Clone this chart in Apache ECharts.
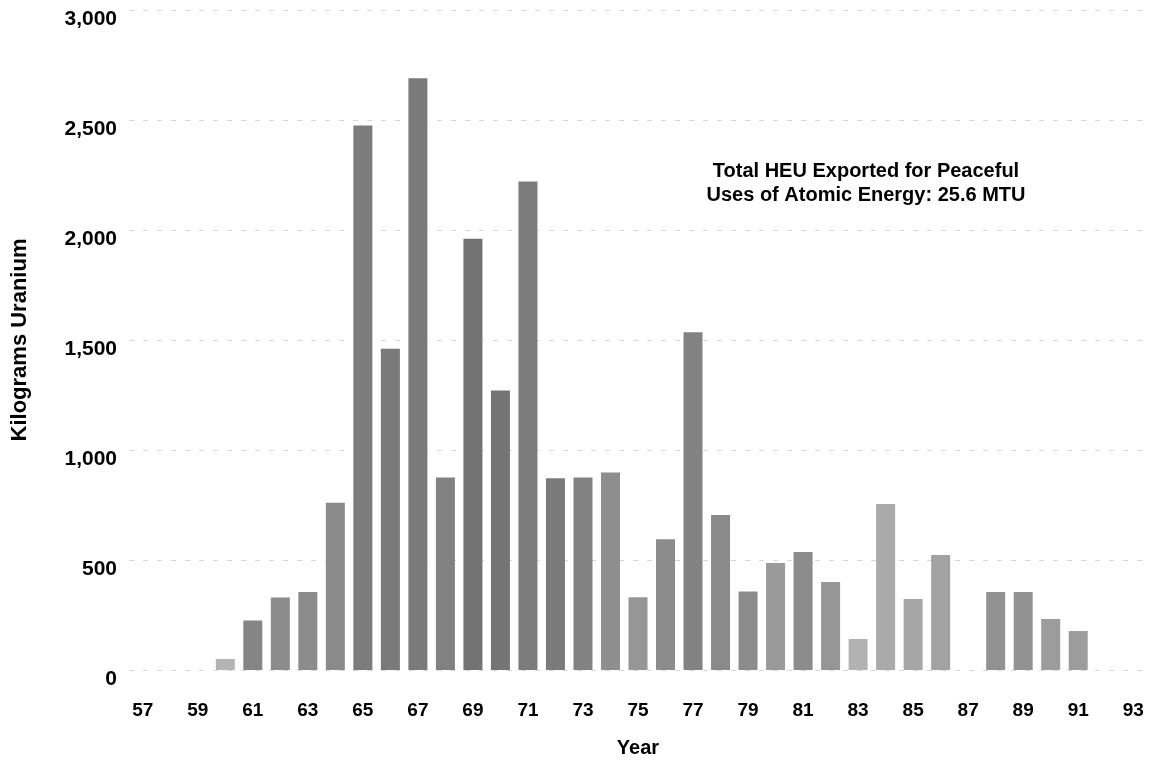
<!DOCTYPE html>
<html>
<head>
<meta charset="utf-8">
<title>HEU Exported</title>
<script src="https://cdn.jsdelivr.net/npm/echarts@6/dist/echarts.min.js"></script>
<style>
  html, body { margin: 0; padding: 0; background: #fff; }
  #chart { width: 1164px; height: 767px; }
</style>
</head>
<body>
<div id="chart"></div>
<script>
// years 1957 - 1993 (two digit labels)
var years = ['57', '58', '59', '60', '61', '62', '63', '64', '65', '66', '67', '68', '69',
  '70', '71', '72', '73', '74', '75', '76', '77', '78', '79', '80', '81', '82', '83',
  '84', '85', '86', '87', '88', '89', '90', '91', '92', '93'];

// kilograms uranium exported each year
var kgUranium = [0, 0, 0, 50, 225, 330, 355, 760, 2475, 1460, 2690, 875, 1960,
  1270, 2220, 872, 875, 898, 331, 594, 1535, 705, 357, 486, 536, 400, 141,
  755, 323, 523, 0, 355, 355, 232, 177, 0, 0];

var yTicks = [0, 500, 1000, 1500, 2000, 2500, 3000];

// grey shade of each bar (scanned look)
var shades = ['#999', '#999', '#999', '#b4b4b4', '#858585', '#8c8c8c', '#8c8c8c', '#8a8a8a',
  '#7c7c7c', '#7a7a7a', '#7a7a7a', '#818181', '#727272', '#747474', '#7c7c7c', '#7a7a7a',
  '#828282', '#8e8e8e', '#969696', '#8c8c8c', '#828282', '#8a8a8a', '#8c8c8c', '#9a9a9a',
  '#8c8c8c', '#969696', '#b2b2b2', '#aaaaaa', '#a6a6a6', '#a2a2a2', '#999', '#929292',
  '#929292', '#9c9c9c', '#9c9c9c', '#999', '#999'];

var chart = echarts.init(document.getElementById('chart'));

var fontName = '"Liberation Sans", Arial, sans-serif';

chart.setOption({
  animation: false,
  grid: {
    left: 129,
    right: 17,
    top: 10,
    bottom: 97,
    outerBoundsMode: 'none'
  },
  xAxis: {
    type: 'category',
    data: years,
    name: 'Year',
    nameLocation: 'middle',
    nameGap: 68,
    nameTextStyle: {
      fontFamily: fontName,
      fontWeight: 'bold',
      fontSize: 20,
      color: '#000'
    },
    axisLine: { show: false },
    axisTick: { show: false },
    axisLabel: {
      interval: 1,
      margin: 31,
      color: '#000',
      fontFamily: fontName,
      fontWeight: 'bold',
      fontSize: 19
    }
  },
  yAxis: {
    type: 'value',
    min: yTicks[0],
    max: yTicks[yTicks.length - 1],
    interval: 500,
    name: 'Kilograms Uranium',
    nameLocation: 'middle',
    nameGap: 98,
    nameTextStyle: {
      fontFamily: fontName,
      fontWeight: 'bold',
      fontSize: 22,
      color: '#000'
    },
    axisLine: { show: false },
    axisTick: { show: false },
    axisLabel: {
      margin: 12,
      color: '#000',
      fontFamily: fontName,
      fontWeight: 'bold',
      fontSize: 21,
      verticalAlign: 'top',
      lineHeight: 18,
      formatter: function (v) {
        return v.toLocaleString('en-US');
      }
    },
    splitLine: {
      show: true,
      lineStyle: { color: '#d8d8d8', width: 1, type: [5, 9] }
    }
  },
  series: [
    {
      name: 'HEU exported',
      type: 'bar',
      data: kgUranium,
      barWidth: 19,
      itemStyle: {
        color: function (p) {
          return shades[p.dataIndex];
        }
      }
    }
  ],
  graphic: [
    {
      type: 'text',
      x: 866,
      y: 159,
      style: {
        text: 'Total HEU Exported for Peaceful\nUses of Atomic Energy: 25.6 MTU',
        fontFamily: fontName,
        fontWeight: 'bold',
        fontSize: 20,
        fill: '#000',
        align: 'center',
        verticalAlign: 'top',
        lineHeight: 24
      }
    }
  ]
});
</script>
</body>
</html>
